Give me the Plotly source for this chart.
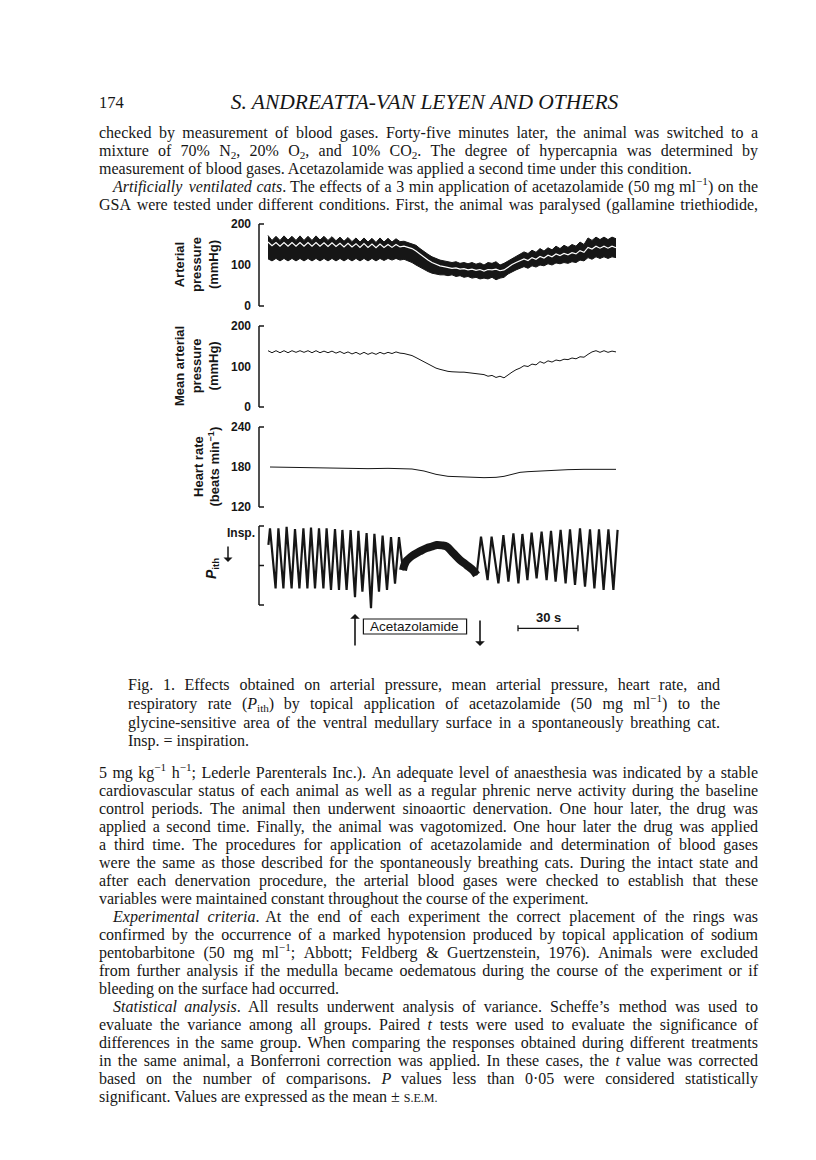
import re
import plotly.graph_objects as go

W, H = 816, 1160          # page size
M = 8                     # the browser's default body margin around the figure
FW, FH = W - 2 * M, H - 2 * M
INK = '#161616'
SERIF = 'Liberation Serif'
SANS = 'Liberation Sans'

# ---------------- recording data (time in s from start of trace) ----------------
# arterial pressure band (mmHg): lower / upper edge of the pulsatile trace, and the
# light seam running inside it, read every 2 s
ap_t = list(range(0, 176, 2))
ap_upper = [172, 160, 170, 160, 171, 161, 170, 160, 171, 160,
            170, 160, 171, 161, 170, 160, 169, 159, 168, 158,
            167, 157, 166, 156, 166, 156, 165, 155, 166, 156,
            165, 156, 164, 157, 158, 155, 152, 148, 140, 132,
            126, 120, 116, 112, 110, 108, 106, 108, 104, 106,
            103, 106, 102, 105, 100, 106, 104, 108, 100, 104,
            110, 116, 122, 126, 132, 128, 136, 131, 140, 134,
            142, 137, 146, 140, 148, 143, 150, 146, 156, 150,
            166, 160, 168, 162, 168, 162, 168, 164]
ap_lower = [115, 110, 116, 110, 116, 110, 116, 110, 116, 110,
            116, 110, 116, 110, 116, 110, 116, 110, 116, 110,
            116, 110, 116, 110, 116, 110, 116, 110, 116, 111,
            116, 112, 116, 112, 114, 110, 106, 100, 94, 88,
            84, 80, 78, 76, 76, 74, 76, 72, 74, 70,
            72, 68, 70, 66, 68, 66, 70, 64, 68, 70,
            78, 84, 88, 92, 96, 92, 98, 95, 100, 98,
            103, 100, 105, 103, 106, 104, 108, 106, 112, 110,
            118, 114, 120, 116, 120, 116, 120, 118]
ap_seam = [156, 147, 155, 146, 155, 146, 155, 146, 155, 146,
           155, 146, 155, 146, 154, 145, 154, 145, 153, 144,
           153, 144, 152, 143, 152, 143, 151, 142, 151, 143,
           150, 143, 150, 144, 146, 143, 140, 134, 126, 118,
           112, 106, 102, 98, 96, 94, 92, 93, 90, 91,
           88, 90, 87, 89, 85, 89, 88, 90, 86, 88,
           95, 101, 106, 110, 115, 111, 118, 114, 121, 117,
           124, 120, 127, 123, 128, 125, 130, 127, 135, 131,
           143, 139, 146, 141, 146, 141, 146, 142]

# mean arterial pressure (mmHg)
map_t = list(range(0, 176, 2))
map_mmhg = [139, 134, 139, 134, 139, 134, 139, 135, 139, 135,
            139, 134, 139, 134, 138, 134, 138, 133, 137, 132,
            136, 131, 135, 130, 135, 130, 134, 130, 135, 131,
            135, 132, 136, 133, 132, 130, 127, 122, 117, 112,
            106, 100, 96, 93, 90, 88, 87, 86, 86, 86,
            85, 84, 83, 82, 80, 76, 78, 73, 76, 72,
            80, 86, 92, 96, 102, 100, 106, 104, 112, 108,
            114, 111, 116, 114, 118, 117, 121, 119, 124, 123,
            130, 136, 139, 135, 139, 135, 138, 136]

# heart rate (beats/min)
hr_t = [1, 10, 20, 30, 40, 50, 60, 66, 72, 78, 84, 90, 96,
        102, 108, 114, 118, 122, 126, 130, 136, 142, 150, 158, 166, 174]
hr_bpm = [180, 179.5, 178.5, 178, 177.5, 177.5, 178, 178, 177, 174, 169, 166, 165,
          164, 164, 164.5, 166, 169, 172, 173, 174, 175, 176, 176.5, 176.5, 176.5]

# P_ith trace (0 = bottom of bracket, 100 = top): peaks and troughs of each breath
pith_pre_t = [0.2, 1.0, 3.8, 5.2, 7.7, 9.3, 11.8, 13.5, 15.7, 17.7, 19.7, 21.5,
              23.5, 25.5, 27.7, 29.3, 31.5, 33.5, 35.5, 37.2, 39.3, 41.3, 43.5,
              45.2, 47.2, 49.3, 51.5, 53.2, 55.5, 57.3, 59.5, 61.5, 63.5, 65.5, 67.5]
pith_pre = [76, 97, 21, 97, 21, 99, 21, 96, 21, 97, 21, 98,
            21, 97, 21, 97, 19, 96, 19, 95, 19, 95, 10,
            94, 17, 91, -4, 90, 17, 88, 19, 86, 27, 86, 44]
hump_t = [67.5, 69, 72.5, 76, 79.3, 82, 84.3, 87, 89.3, 92.5, 96, 99.3, 102.5, 104.3]
hump = [44, 55, 63, 68, 72, 74, 76, 75.5, 74, 66, 57, 50.6, 44, 38]
pith_post_t = [104.3, 106.5, 109.8, 111.8, 115.2, 117.7, 120.2, 122.7, 125.2, 127.2,
               129.7, 131.8, 134.3, 136.8, 139.3, 141.5, 143.8, 146.3, 148.8, 151,
               153.5, 156, 158.5, 161, 163.2, 165.5, 167.8, 170.2, 172.7, 174.8]
pith_post = [38, 86.5, 31.6, 86.5, 27.4, 88.6, 29.5, 90.8, 27.4, 89.9,
             31.6, 91.5, 33.8, 92.8, 31.6, 94, 29.5, 95, 27.4, 95.8,
             25.3, 97, 23.2, 95.8, 21, 95.8, 19, 95.8, 19, 95]

drug_on, drug_off = 43.5, 106.0   # application of acetazolamide (s)
bar_start, bar_len = 125, 30       # time calibration bar (s)

ap_ticks = [0, 100, 200]
map_ticks = [0, 100, 200]
hr_ticks = [120, 180, 240]

# ---------------- page text ----------------
header_left = "174"
header = "<i>S. ANDREATTA-VAN LEYEN AND OTHERS</i>"

# 'j' justified, 'i' indented + justified, 'e' last line of a paragraph
top_lines = [
    ("checked by measurement of blood gases. Forty-five minutes later, the animal was switched to a", 'j'),
    ("mixture of 70% N<sub>2</sub>, 20% O<sub>2</sub>, and 10% CO<sub>2</sub>. The degree of hypercapnia was determined by", 'j'),
    ("measurement of blood gases. Acetazolamide was applied a second time under this condition.", 'e'),
    ("<i>Artificially</i> <i>ventilated</i> <i>cats</i>. The effects of a 3 min application of acetazolamide (50 mg ml<sup>−1</sup>) on the", 'i'),
    ("GSA were tested under different conditions. First, the animal was paralysed (gallamine triethiodide,", 'j'),
]
caption_lines = [
    ("Fig. 1. Effects obtained on arterial pressure, mean arterial pressure, heart rate, and", 'j'),
    ("respiratory rate (<i>P</i><sub>ith</sub>) by topical application of acetazolamide (50 mg ml<sup>−1</sup>) to the", 'j'),
    ("glycine-sensitive area of the ventral medullary surface in a spontaneously breathing cat.", 'j'),
    ("Insp. = inspiration.", 'e'),
]
bottom_lines = [
    ("5 mg kg<sup>−1</sup> h<sup>−1</sup>; Lederle Parenterals Inc.). An adequate level of anaesthesia was indicated by a stable", 'j'),
    ("cardiovascular status of each animal as well as a regular phrenic nerve activity during the baseline", 'j'),
    ("control periods. The animal then underwent sinoaortic denervation. One hour later, the drug was", 'j'),
    ("applied a second time. Finally, the animal was vagotomized. One hour later the drug was applied", 'j'),
    ("a third time. The procedures for application of acetazolamide and determination of blood gases", 'j'),
    ("were the same as those described for the spontaneously breathing cats. During the intact state and", 'j'),
    ("after each denervation procedure, the arterial blood gases were checked to establish that these", 'j'),
    ("variables were maintained constant throughout the course of the experiment.", 'e'),
    ("<i>Experimental</i> <i>criteria</i>. At the end of each experiment the correct placement of the rings was", 'i'),
    ("confirmed by the occurrence of a marked hypotension produced by topical application of sodium", 'j'),
    ("pentobarbitone (50 mg ml<sup>−1</sup>; Abbott; Feldberg &amp; Guertzenstein, 1976). Animals were excluded", 'j'),
    ("from further analysis if the medulla became oedematous during the course of the experiment or if", 'j'),
    ("bleeding on the surface had occurred.", 'e'),
    ("<i>Statistical</i> <i>analysis</i>. All results underwent analysis of variance. Scheffe’s method was used to", 'i'),
    ("evaluate the variance among all groups. Paired <i>t</i> tests were used to evaluate the significance of", 'j'),
    ("differences in the same group. When comparing the responses obtained during different treatments", 'j'),
    ("in the same animal, a Bonferroni correction was applied. In these cases, the <i>t</i> value was corrected", 'j'),
    ("based on the number of comparisons. <i>P</i> values less than 0·05 were considered statistically", 'j'),
    ("significant. Values are expressed as the mean ± <span style='font-size:12px'>S.E.M.</span>", 'e'),
]

# Times-compatible advance widths (1/1000 em) used to justify the lines
GLYPH = dict(zip(" !\"#$%&'()*+,-./:;=?",
                 [250, 333, 408, 500, 500, 833, 778, 180, 333, 333,
                  500, 564, 250, 333, 250, 278, 278, 278, 564, 444]))
GLYPH.update(dict.fromkeys('0123456789', 500))
GLYPH.update(zip('ABCDEFGHIJKLMNOPQRSTUVWXYZ',
                 [722, 667, 667, 722, 611, 556, 722, 722, 333, 389, 722, 611, 889,
                  722, 722, 556, 722, 667, 556, 611, 722, 722, 944, 722, 722, 611]))
GLYPH.update(zip('abcdefghijklmnopqrstuvwxyz',
                 [444, 500, 444, 500, 444, 333, 500, 500, 278, 278, 500, 278, 778,
                  500, 500, 500, 500, 333, 389, 278, 500, 500, 722, 500, 500, 444]))
GLYPH.update({'±': 564, '·': 250, '−': 564, '’': 333})


def text_width(s, size):
    s = s.replace('&amp;', '&')
    scale, total = 1.0, 0.0
    for tok in re.split(r'(<[^>]+>)', s):
        if tok.startswith('<'):
            if tok in ('<sup>', '<sub>'):
                scale = 0.7
            elif tok in ('</sup>', '</sub>'):
                scale = 1.0
            continue
        total += scale * sum(GLYPH.get(c, 500) for c in tok)
    return total * size / 1000.0


def set_lines(lines, x_left, x_right, y0, step, size, indent=14):
    xs, ys, words = [], [], []
    for i, (line, kind) in enumerate(lines):
        y = y0 + i * step
        left = x_left + (indent if kind == 'i' else 0)
        if kind == 'e':
            xs.append(left); ys.append(y); words.append(line)
            continue
        parts = line.split(' ')
        widths = [text_width(p, size) for p in parts]
        gap = (x_right - left - sum(widths)) / (len(parts) - 1)
        x = left
        for p, w in zip(parts, widths):
            xs.append(x); ys.append(y); words.append(p)
            x += w + gap
    return xs, ys, words


def page_text(xs, ys, words, size, pos='middle right'):
    return go.Scatter(x=xs, y=ys, text=words, mode='text', textposition=pos,
                      textfont=dict(family=SERIF, size=size, color=INK),
                      xaxis='x5', yaxis='y5', hoverinfo='skip', showlegend=False)


BODY = 16
fig = go.Figure()

# ---------------- traces ----------------
fig.add_trace(go.Scatter(x=ap_t, y=ap_lower, mode='lines', line=dict(color=INK, width=1),
                         xaxis='x', yaxis='y', hoverinfo='skip'))
fig.add_trace(go.Scatter(x=ap_t, y=ap_upper, mode='lines', line=dict(color=INK, width=1),
                         fill='tonexty', fillcolor=INK, xaxis='x', yaxis='y', hoverinfo='skip'))
fig.add_trace(go.Scatter(x=ap_t, y=ap_seam, mode='lines', line=dict(color='white', width=1.2),
                         xaxis='x', yaxis='y', hoverinfo='skip'))
fig.add_trace(go.Scatter(x=map_t, y=map_mmhg, mode='lines', line=dict(color=INK, width=1),
                         xaxis='x2', yaxis='y2', hoverinfo='skip'))
fig.add_trace(go.Scatter(x=hr_t, y=hr_bpm, mode='lines', line=dict(color=INK, width=1),
                         xaxis='x3', yaxis='y3', hoverinfo='skip'))
fig.add_trace(go.Scatter(x=pith_pre_t + hump_t + pith_post_t, y=pith_pre + hump + pith_post,
                         mode='lines', line=dict(color=INK, width=2.2), xaxis='x4', yaxis='y4',
                         hoverinfo='skip'))
fig.add_trace(go.Scatter(x=hump_t, y=hump, mode='lines', line=dict(color=INK, width=8, shape='spline'),
                         xaxis='x4', yaxis='y4', hoverinfo='skip'))

# page text (positions in page pixels)
fig.add_trace(page_text([99], [104], [header_left], 16.5))
fig.add_trace(page_text([424.5], [104], [header], 21.5, pos='middle center'))
fig.add_trace(page_text(*set_lines(top_lines, 99, 758, 134, 18, BODY), BODY))
fig.add_trace(page_text(*set_lines(caption_lines, 128, 720, 686, 18.8, 16), 16))
fig.add_trace(page_text(*set_lines(bottom_lines, 99, 758, 774, 18, BODY), BODY))


def px(p):
    return (p - M) / FW


def py(p):
    return 1 - (p - M) / FH


# ---------------- axes ----------------
X0, X1 = 259, 622          # page px of the plotting strip
T0, T1 = -4.5, 177         # seconds across it
panels = [                 # yref, page px of top/bottom bracket end, values there, tick labels
    ('y', 224, 306, 200, 0, ap_ticks),
    ('y2', 326, 407, 200, 0, map_ticks),
    ('y3', 427, 507, 240, 120, hr_ticks),
    ('y4', 526, 605, 100, 0, []),
]

layout = dict(width=FW, height=FH, margin=dict(l=0, r=0, t=0, b=0),
              paper_bgcolor='white', plot_bgcolor='rgba(0,0,0,0)', showlegend=False)
shapes = []
for n, (yref, top, bot, vtop, vbot, ticks) in enumerate(panels, start=1):
    sfx = '' if n == 1 else str(n)
    k = (vtop - vbot) / (bot - top)
    pad = 9
    layout['xaxis' + sfx] = dict(domain=[px(X0), px(X1)], range=[T0, T1], visible=False,
                                 anchor='y' + sfx, fixedrange=True)
    layout['yaxis' + sfx] = dict(domain=[py(bot + pad), py(top - pad)],
                                 range=[vbot - pad * k, vtop + pad * k], anchor='x' + sfx,
                                 showgrid=False, zeroline=False, showline=False, ticks='',
                                 tickvals=ticks, showticklabels=bool(ticks),
                                 ticklabelstandoff=7, fixedrange=True,
                                 tickfont=dict(family=SANS, size=12, color=INK, weight='bold'))
    line = dict(color=INK, width=1.5)
    shapes.append(dict(type='line', xref='paper', yref=yref, x0=px(X0), x1=px(X0),
                       y0=vbot, y1=vtop, line=line))
    ends = [vbot, vtop] if ticks else [vbot, (vbot + vtop) / 2, vtop]
    for v in ends:
        shapes.append(dict(type='line', xref='paper', yref=yref, x0=px(X0), x1=px(X0 + 5),
                           y0=v, y1=v, line=line))

# overlay axes in page pixels for the printed text
layout['xaxis5'] = dict(domain=[0, 1], range=[M, M + FW], visible=False, anchor='y5', fixedrange=True)
layout['yaxis5'] = dict(domain=[0, 1], range=[M + FH, M], visible=False, anchor='x5', fixedrange=True)

# drug box and time bar live on the P_ith time axis
shapes.append(dict(type='rect', xref='x4', yref='paper', x0=drug_on + 4.2, x1=drug_off - 6.7,
                   y0=py(634), y1=py(619), line=dict(color=INK, width=1.2)))
shapes.append(dict(type='line', xref='x4', yref='paper', x0=bar_start, x1=bar_start + bar_len,
                   y0=py(628.3), y1=py(628.3), line=dict(color=INK, width=1.3)))
for xe in (bar_start, bar_start + bar_len):
    shapes.append(dict(type='line', xref='x4', yref='paper', x0=xe, x1=xe,
                       y0=py(625.3), y1=py(631.3), line=dict(color=INK, width=1.3)))
layout['shapes'] = shapes


def label(x, y, text, size=13, bold=True, angle=0):
    return dict(x=px(x), y=py(y), xref='paper', yref='paper', text=text, showarrow=False,
                xanchor='center', yanchor='middle', textangle=angle,
                font=dict(family=SANS, size=size, color=INK,
                          weight='bold' if bold else 'normal'))


annotations = [
    label(196, 265, 'Arterial<br>pressure<br>(mmHg)', angle=-90),
    label(196, 366, 'Mean arterial<br>pressure<br>(mmHg)', angle=-90),
    label(206.5, 467, 'Heart rate<br>(beats min<sup>−1</sup>)', angle=-90),
    label(212, 569, '<i>P</i><sub>ith</sub>', size=14, angle=-90),
    label(241, 533, 'Insp.', size=12),
    dict(x=px(228), y=py(562), xref='paper', yref='paper', text='', showarrow=True,
         ax=0, ay=-17, arrowhead=1, arrowsize=1, arrowwidth=1.5, arrowcolor=INK),
    dict(x=drug_on, y=py(614), xref='x4', yref='paper', text='', showarrow=True,
         ax=0, ay=33, arrowhead=1, arrowsize=1, arrowwidth=1.6, arrowcolor=INK),
    dict(x=drug_off, y=py(646), xref='x4', yref='paper', text='', showarrow=True,
         ax=0, ay=-27, arrowhead=1, arrowsize=1, arrowwidth=1.6, arrowcolor=INK),
    dict(x=(drug_on + drug_off) / 2 - 1.3, y=py(626.5), xref='x4', yref='paper',
         text='Acetazolamide', showarrow=False, xanchor='center', yanchor='middle',
         font=dict(family=SANS, size=13.5, color=INK)),
    dict(x=bar_start + bar_len / 2, y=py(617.5), xref='x4', yref='paper', text='30 s',
         showarrow=False, xanchor='center', yanchor='middle',
         font=dict(family=SANS, size=13, color=INK, weight='bold')),
]
layout['annotations'] = annotations

fig.update_layout(**layout)
fig.write_html("out.html")
